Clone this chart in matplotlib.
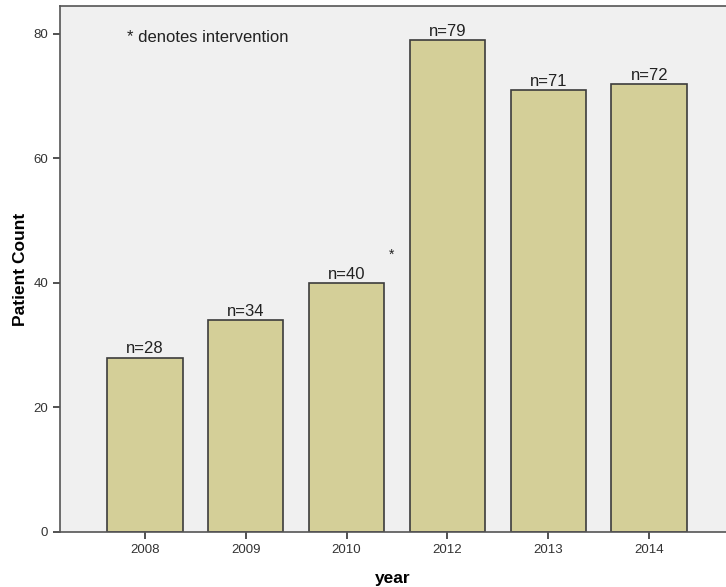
import matplotlib.pyplot as plt
import numpy as np

plt.rcParams["font.family"] = ["Liberation Sans", "DejaVu Sans"]

years = ["2008", "2009", "2010", "2012", "2013", "2014"]
counts = [28, 34, 40, 79, 71, 72]
labels = ["n=28", "n=34", "n=40", "n=79", "n=71", "n=72"]

BAR_COLOR = "#d4cf98"
EDGE = "#3c3c3c"
BG = "#f0f0f0"

fig = plt.figure(figsize=(7.26, 5.87), dpi=100)
ax = fig.add_axes([0.0826, 0.0937, 0.9174, 0.8961])
ax.set_facecolor(BG)

x = np.arange(len(years))
ax.bar(x, counts, width=0.75, color=BAR_COLOR, edgecolor=EDGE, linewidth=1.2, zorder=2)

for xi, c, lab in zip(x, counts, labels):
    ax.text(xi, c + 0.2, lab, ha="center", va="bottom", fontsize=12, color="#222222")

# intervention marker between 2010 and 2012
ax.text(2.45, 44.5, "*", ha="center", va="center", fontsize=10, color="#222222")
ax.text(-0.18, 79.5, "* denotes intervention", ha="left", va="center",
        fontsize=12, color="#222222")

ax.set_xlim(-0.84, 5.76)
ax.set_ylim(0, 84.5)
ax.set_yticks([0, 20, 40, 60, 80])
ax.set_xticks(x)
ax.set_xticklabels(years)
ax.tick_params(axis="both", labelsize=9.5, colors="#333333", length=5, width=1.2)

for side in ["left", "bottom", "top"]:
    ax.spines[side].set_color("#555555")
    ax.spines[side].set_linewidth(1.2)
ax.spines["right"].set_visible(False)

ax.set_ylabel("Patient Count", fontsize=12.5, fontweight="bold", labelpad=4)
ax.set_xlabel("year", fontsize=12.5, fontweight="bold", labelpad=11)

fig.savefig("out.png", dpi=100)
